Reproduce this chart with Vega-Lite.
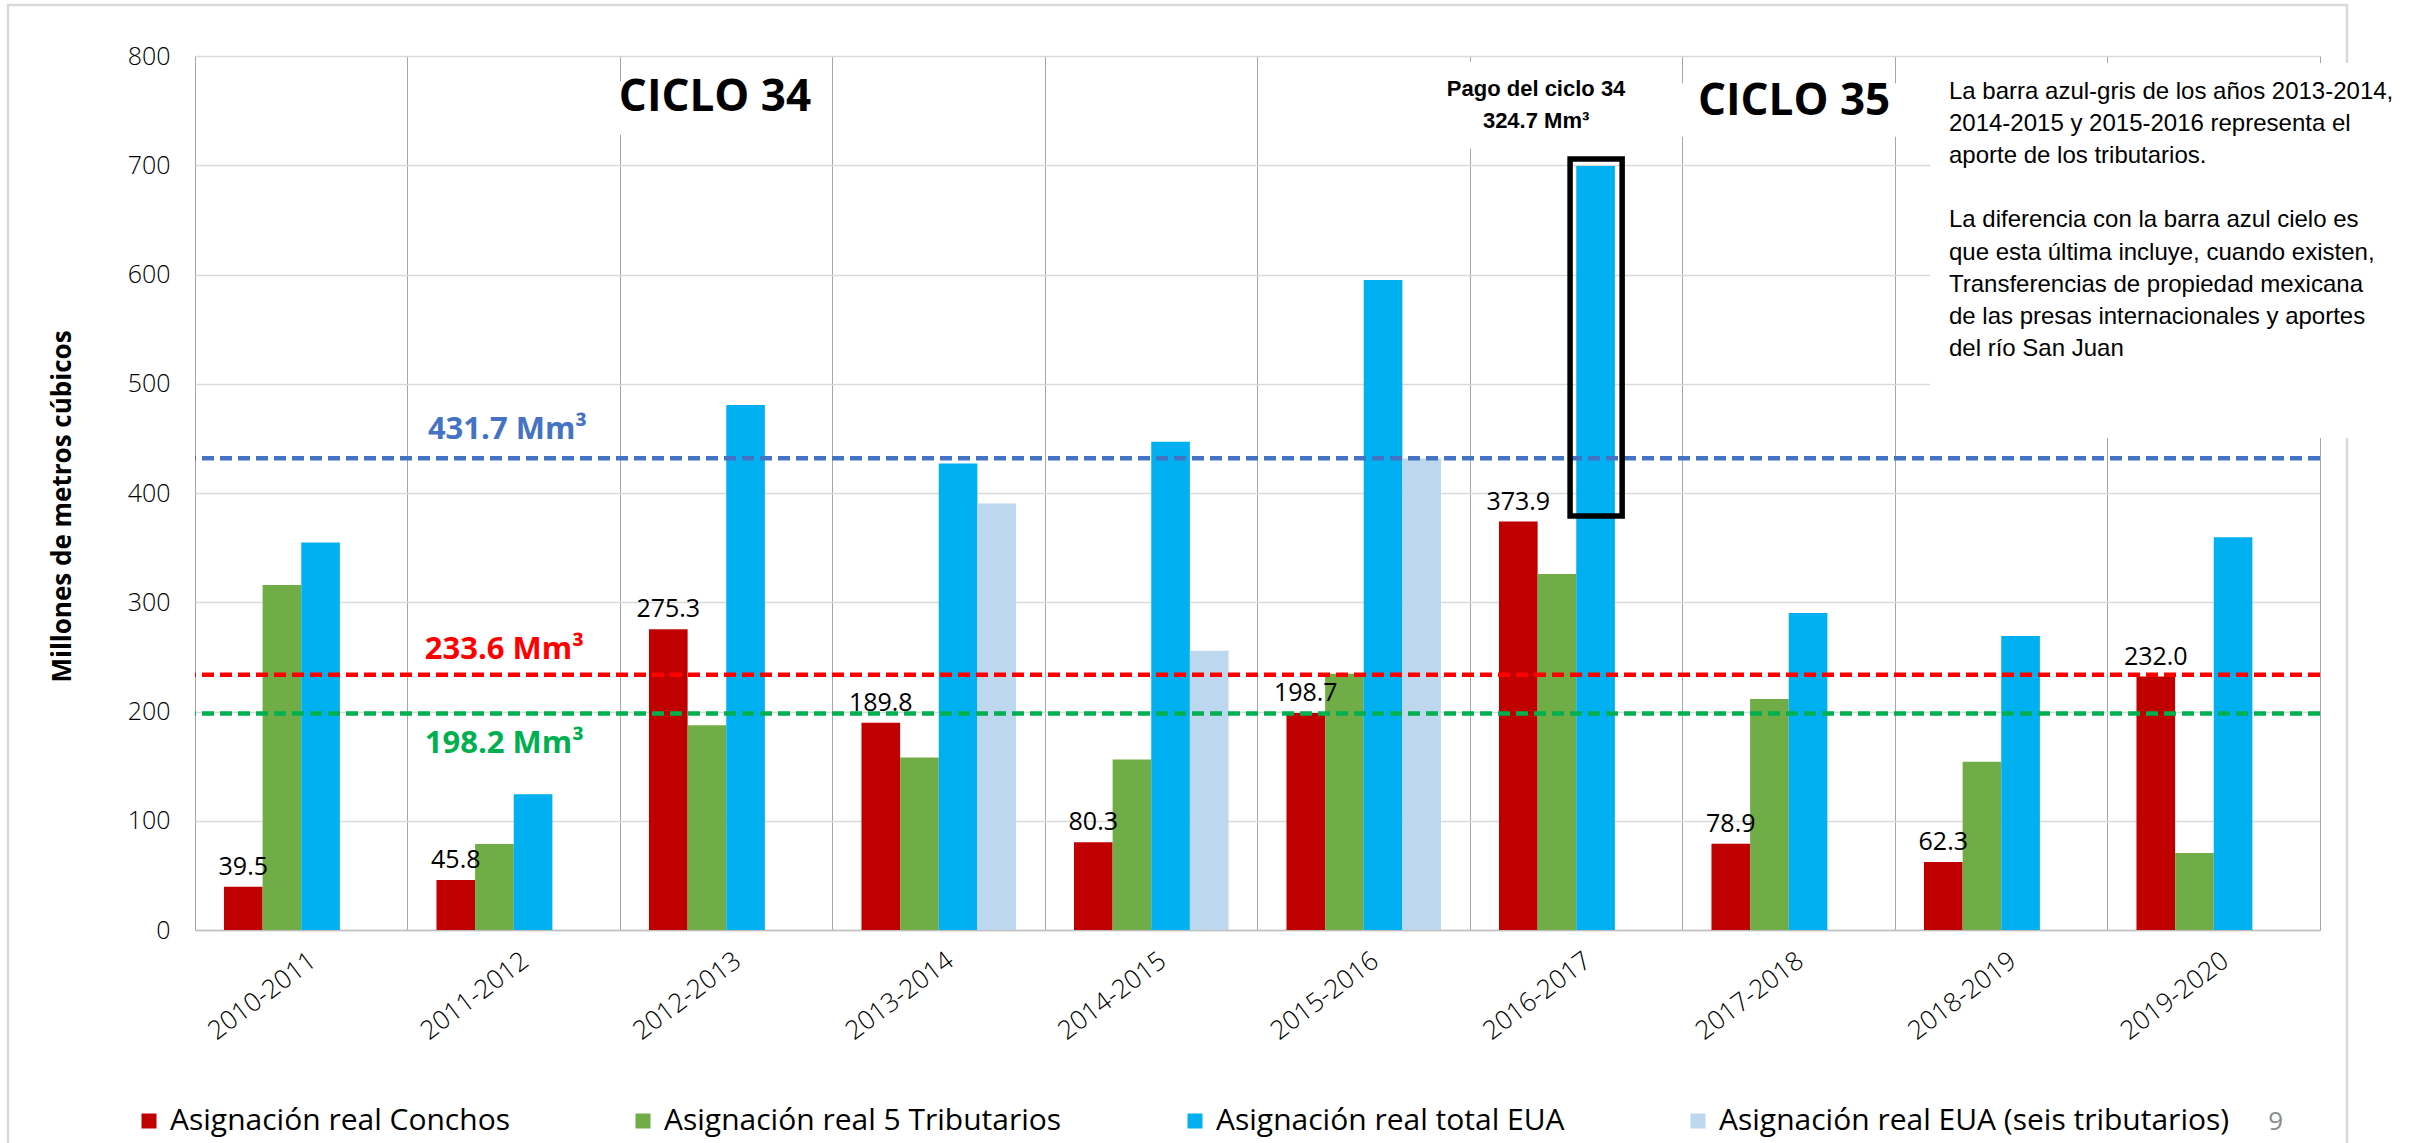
{
  "$schema": "https://vega.github.io/schema/vega-lite/v6.json",
  "width": 2125,
  "height": 874,
  "autosize": "none",
  "padding": {"left": 195, "top": 56, "right": 105, "bottom": 213},
  "background": "white",
  "config": {"view": {"stroke": null}, "font": "Open Sans"},
  "resolve": {"scale": {"x": "independent"}, "axis": {"y": "independent"}},
  "layer": [
    {
      "data": {"values": [{}]},
      "mark": {"type": "rect", "fill": null, "fillOpacity": 0, "stroke": "#D9D9D9", "strokeWidth": 2.5},
      "encoding": {
        "x": {"datum": -0.88, "type": "quantitative", "scale": {"domain": [0, 10], "nice": false}, "axis": null},
        "x2": {"datum": 10.127},
        "y": {"datum": 846.7, "type": "quantitative", "scale": {"domain": [0, 800]}, "axis": {"orient": "right", "labels": false, "ticks": false, "grid": false, "title": null, "domain": true, "domainColor": "#A6A6A6", "domainWidth": 1}},
        "y2": {"datum": -250}
      }
    },
    {
      "data": {"values": [{}]},
      "mark": {"type": "rect", "fill": "white", "stroke": null},
      "encoding": {
        "x": {"datum": 8.165, "type": "quantitative", "scale": {"domain": [0, 10], "nice": false}, "axis": null},
        "x2": {"datum": 10.6},
        "y": {"datum": 793.6, "type": "quantitative", "scale": {"domain": [0, 800]}, "axis": null},
        "y2": {"datum": 450.3}
      }
    },
    {
      "data": {"values": [{}]},
      "mark": {"type": "rect", "fill": "white", "stroke": null},
      "encoding": {
        "x": {"datum": 1.95, "type": "quantitative", "scale": {"domain": [0, 10], "nice": false}, "axis": null},
        "x2": {"datum": 2.95},
        "y": {"datum": 777, "type": "quantitative", "scale": {"domain": [0, 800]}, "axis": null},
        "y2": {"datum": 728}
      }
    },
    {
      "data": {"values": [{}]},
      "mark": {"type": "rect", "fill": "white", "stroke": null},
      "encoding": {
        "x": {"datum": 5.85, "type": "quantitative", "scale": {"domain": [0, 10], "nice": false}, "axis": null},
        "x2": {"datum": 6.95},
        "y": {"datum": 795, "type": "quantitative", "scale": {"domain": [0, 800]}, "axis": null},
        "y2": {"datum": 715}
      }
    },
    {
      "data": {"values": [{}]},
      "mark": {"type": "rect", "fill": "white", "stroke": null},
      "encoding": {
        "x": {"datum": 6.97, "type": "quantitative", "scale": {"domain": [0, 10], "nice": false}, "axis": null},
        "x2": {"datum": 8.05},
        "y": {"datum": 775, "type": "quantitative", "scale": {"domain": [0, 800]}, "axis": null},
        "y2": {"datum": 726}
      }
    },
    {
      "data": {"values": [
        {"Ciclo": "2010-2011", "Serie": "Asignación real Conchos", "Valor": 39.5},
        {"Ciclo": "2010-2011", "Serie": "Asignación real 5 Tributarios", "Valor": 315.7},
        {"Ciclo": "2010-2011", "Serie": "Asignación real total EUA", "Valor": 354.7},
        {"Ciclo": "2011-2012", "Serie": "Asignación real Conchos", "Valor": 45.8},
        {"Ciclo": "2011-2012", "Serie": "Asignación real 5 Tributarios", "Valor": 78.7},
        {"Ciclo": "2011-2012", "Serie": "Asignación real total EUA", "Valor": 124.3},
        {"Ciclo": "2012-2013", "Serie": "Asignación real Conchos", "Valor": 275.3},
        {"Ciclo": "2012-2013", "Serie": "Asignación real 5 Tributarios", "Valor": 187.4},
        {"Ciclo": "2012-2013", "Serie": "Asignación real total EUA", "Valor": 480.6},
        {"Ciclo": "2013-2014", "Serie": "Asignación real Conchos", "Valor": 189.8},
        {"Ciclo": "2013-2014", "Serie": "Asignación real 5 Tributarios", "Valor": 158.0},
        {"Ciclo": "2013-2014", "Serie": "Asignación real total EUA", "Valor": 426.9},
        {"Ciclo": "2013-2014", "Serie": "Asignación real EUA (seis tributarios)", "Valor": 390.5},
        {"Ciclo": "2014-2015", "Serie": "Asignación real Conchos", "Valor": 80.3},
        {"Ciclo": "2014-2015", "Serie": "Asignación real 5 Tributarios", "Valor": 156.0},
        {"Ciclo": "2014-2015", "Serie": "Asignación real total EUA", "Valor": 447.0},
        {"Ciclo": "2014-2015", "Serie": "Asignación real EUA (seis tributarios)", "Valor": 255.6},
        {"Ciclo": "2015-2016", "Serie": "Asignación real Conchos", "Valor": 198.7},
        {"Ciclo": "2015-2016", "Serie": "Asignación real 5 Tributarios", "Valor": 234.6},
        {"Ciclo": "2015-2016", "Serie": "Asignación real total EUA", "Valor": 595.0},
        {"Ciclo": "2015-2016", "Serie": "Asignación real EUA (seis tributarios)", "Valor": 431.5},
        {"Ciclo": "2016-2017", "Serie": "Asignación real Conchos", "Valor": 373.9},
        {"Ciclo": "2016-2017", "Serie": "Asignación real 5 Tributarios", "Valor": 325.8},
        {"Ciclo": "2016-2017", "Serie": "Asignación real total EUA", "Valor": 699.4},
        {"Ciclo": "2017-2018", "Serie": "Asignación real Conchos", "Valor": 78.9},
        {"Ciclo": "2017-2018", "Serie": "Asignación real 5 Tributarios", "Valor": 211.4},
        {"Ciclo": "2017-2018", "Serie": "Asignación real total EUA", "Valor": 290.2},
        {"Ciclo": "2018-2019", "Serie": "Asignación real Conchos", "Valor": 62.3},
        {"Ciclo": "2018-2019", "Serie": "Asignación real 5 Tributarios", "Valor": 154.1},
        {"Ciclo": "2018-2019", "Serie": "Asignación real total EUA", "Valor": 269.2},
        {"Ciclo": "2019-2020", "Serie": "Asignación real Conchos", "Valor": 232.0},
        {"Ciclo": "2019-2020", "Serie": "Asignación real 5 Tributarios", "Valor": 70.5},
        {"Ciclo": "2019-2020", "Serie": "Asignación real total EUA", "Valor": 359.6}
      ]},
      "layer": [
        {
          "mark": {"type": "bar"},
          "encoding": {
            "x": {
              "field": "Ciclo", "type": "nominal", "sort": null,
              "scale": {"paddingInner": 0, "paddingOuter": 0},
              "axis": {
                "orient": "bottom", "title": null, "bandPosition": 0, "labelOffset": 4,
                "labelAngle": -37, "labelAlign": "right", "labelBaseline": "top", "labelPadding": 17,
                "labelFont": "Open Sans", "labelFontSize": 26, "labelFontWeight": 300, "labelColor": "#000000",
                "labelOverlap": false, "labelBound": false,
                "ticks": false, "grid": true, "gridColor": "#A6A6A6", "gridWidth": 1,
                "domain": true, "domainColor": "#BFBFBF", "domainWidth": 1.5
              }
            },
            "xOffset": {
              "field": "Serie", "type": "nominal",
              "scale": {"domain": ["Asignación real Conchos", "Asignación real 5 Tributarios", "Asignación real total EUA", "Asignación real EUA (seis tributarios)"], "paddingInner": 0, "paddingOuter": 0.75}
            },
            "y": {
              "field": "Valor", "type": "quantitative",
              "scale": {"domain": [0, 800]},
              "axis": {
                "orient": "left", "values": [0, 100, 200, 300, 400, 500, 600, 700, 800],
                "title": "Millones de metros cúbicos", "titleFont": "Open Sans", "titleFontSize": 26,
                "titleFontWeight": "bold", "titleColor": "#000000", "titlePadding": 52, "titleY": 450,
                "labelFont": "Open Sans", "labelFontSize": 25, "labelFontWeight": 300, "labelColor": "#000000", "labelPadding": 25,
                "ticks": false, "domain": false, "grid": true, "gridColor": "#D9D9D9", "gridWidth": 1.5
              }
            },
            "color": {
              "field": "Serie", "type": "nominal",
              "scale": {
                "domain": ["Asignación real Conchos", "Asignación real 5 Tributarios", "Asignación real total EUA", "Asignación real EUA (seis tributarios)"],
                "range": ["#C00000", "#70AD47", "#00B0F0", "#BDD7EE"]
              },
              "legend": {
                "title": null, "orient": "none", "legendX": -61, "legendY": 1050,
                "direction": "horizontal", "columns": 4, "symbolType": "square", "symbolSize": 225,
                "symbolStrokeWidth": 0, "labelFont": "Open Sans", "labelFontSize": 30, "labelColor": "#000000",
                "labelOffset": 6, "columnPadding": 118, "labelLimit": 0, "padding": 0
              }
            }
          }
        },
        {
          "data": {"values": [{}]},
          "mark": {"type": "rule", "strokeDash": [12, 6], "strokeWidth": 4.5, "color": "#4472C4"},
          "encoding": {"y": {"datum": 431.7, "type": "quantitative", "scale": {"domain": [0, 800]}}}
        },
        {
          "data": {"values": [{}]},
          "mark": {"type": "rule", "strokeDash": [12, 6], "strokeWidth": 4.5, "color": "#FF0000"},
          "encoding": {"y": {"datum": 233.6, "type": "quantitative", "scale": {"domain": [0, 800]}}}
        },
        {
          "data": {"values": [{}]},
          "mark": {"type": "rule", "strokeDash": [12, 6], "strokeWidth": 4.5, "color": "#00B050"},
          "encoding": {"y": {"datum": 198.2, "type": "quantitative", "scale": {"domain": [0, 800]}}}
        },
        {
          "transform": [{"filter": "datum.Serie === 'Asignación real Conchos'"}],
          "mark": {"type": "text", "dy": -12, "baseline": "alphabetic", "align": "center", "font": "Open Sans", "fontSize": 25, "color": "#000000"},
          "encoding": {
            "x": {"field": "Ciclo", "type": "nominal", "sort": null},
            "xOffset": {"field": "Serie", "type": "nominal"},
            "y": {"field": "Valor", "type": "quantitative"},
            "text": {"field": "Valor", "type": "quantitative", "format": ".1f"},
            "fontWeight": {"condition": {"test": "datum.Ciclo === '2016-2017'", "value": "bold"}, "value": 300}
          }
        }
      ]
    },
    {
      "data": {"values": [{}]},
      "mark": {"type": "text", "font": "Open Sans", "fontWeight": "bold", "fontSize": 31, "color": "#4472C4", "align": "center", "baseline": "alphabetic", "text": "431.7 Mm³"},
      "encoding": {
        "x": {"datum": 1.4706, "type": "quantitative", "scale": {"domain": [0, 10], "nice": false}, "axis": null},
        "y": {"datum": 449, "type": "quantitative", "scale": {"domain": [0, 800]}, "axis": null}
      }
    },
    {
      "data": {"values": [{}]},
      "mark": {"type": "text", "font": "Open Sans", "fontWeight": "bold", "fontSize": 31, "color": "#FF0000", "align": "center", "baseline": "alphabetic", "text": "233.6 Mm³"},
      "encoding": {
        "x": {"datum": 1.456, "type": "quantitative", "scale": {"domain": [0, 10], "nice": false}, "axis": null},
        "y": {"datum": 248, "type": "quantitative", "scale": {"domain": [0, 800]}, "axis": null}
      }
    },
    {
      "data": {"values": [{}]},
      "mark": {"type": "text", "font": "Open Sans", "fontWeight": "bold", "fontSize": 31, "color": "#00B050", "align": "center", "baseline": "alphabetic", "text": "198.2 Mm³"},
      "encoding": {
        "x": {"datum": 1.456, "type": "quantitative", "scale": {"domain": [0, 10], "nice": false}, "axis": null},
        "y": {"datum": 162.1, "type": "quantitative", "scale": {"domain": [0, 800]}, "axis": null}
      }
    },
    {
      "data": {"values": [{}]},
      "mark": {"type": "text", "font": "Open Sans", "fontWeight": "bold", "fontSize": 44, "color": "#000000", "align": "center", "baseline": "alphabetic", "text": "CICLO 34"},
      "encoding": {
        "x": {"datum": 2.447, "type": "quantitative", "scale": {"domain": [0, 10], "nice": false}, "axis": null},
        "y": {"datum": 750, "type": "quantitative", "scale": {"domain": [0, 800]}, "axis": null}
      }
    },
    {
      "data": {"values": [{}]},
      "mark": {"type": "text", "font": "Open Sans", "fontWeight": "bold", "fontSize": 44, "color": "#000000", "align": "center", "baseline": "alphabetic", "text": "CICLO 35"},
      "encoding": {
        "x": {"datum": 7.525, "type": "quantitative", "scale": {"domain": [0, 10], "nice": false}, "axis": null},
        "y": {"datum": 746, "type": "quantitative", "scale": {"domain": [0, 800]}, "axis": null}
      }
    },
    {
      "data": {"values": [{}]},
      "mark": {"type": "text", "font": "Liberation Sans", "fontWeight": "bold", "fontSize": 22, "color": "#000000", "align": "center", "baseline": "alphabetic", "lineHeight": 31.5, "text": ["Pago del ciclo 34", "324.7 Mm³"]},
      "encoding": {
        "x": {"datum": 6.311, "type": "quantitative", "scale": {"domain": [0, 10], "nice": false}, "axis": null},
        "y": {"datum": 763, "type": "quantitative", "scale": {"domain": [0, 800]}, "axis": null}
      }
    },
    {
      "data": {"values": [{}]},
      "mark": {"type": "text", "font": "Liberation Sans", "fontSize": 24, "color": "#000000", "align": "left", "baseline": "alphabetic", "lineHeight": 32.1,
        "text": ["La barra azul-gris de los años 2013-2014,", "2014-2015 y 2015-2016 representa el", "aporte de los tributarios."]},
      "encoding": {
        "x": {"datum": 8.254, "type": "quantitative", "scale": {"domain": [0, 10], "nice": false}, "axis": null},
        "y": {"datum": 760.6, "type": "quantitative", "scale": {"domain": [0, 800]}, "axis": null}
      }
    },
    {
      "data": {"values": [{}]},
      "mark": {"type": "text", "font": "Liberation Sans", "fontSize": 24, "color": "#000000", "align": "left", "baseline": "alphabetic", "lineHeight": 32.1,
        "text": ["La diferencia con la barra azul cielo es", "que esta última incluye, cuando existen,", "Transferencias de propiedad mexicana", "de las presas internacionales y aportes", "del río San Juan"]},
      "encoding": {
        "x": {"datum": 8.254, "type": "quantitative", "scale": {"domain": [0, 10], "nice": false}, "axis": null},
        "y": {"datum": 643.1, "type": "quantitative", "scale": {"domain": [0, 800]}, "axis": null}
      }
    },
    {
      "data": {"values": [{}]},
      "mark": {"type": "text", "font": "Open Sans", "fontSize": 26, "color": "#8C8C8C", "align": "center", "baseline": "alphabetic", "text": "9"},
      "encoding": {
        "x": {"datum": 9.791, "type": "quantitative", "scale": {"domain": [0, 10], "nice": false}, "axis": null},
        "y": {"datum": -183, "type": "quantitative", "scale": {"domain": [0, 800]}, "axis": null}
      }
    },
    {
      "data": {"values": [{}]},
      "mark": {"type": "rect", "fill": null, "fillOpacity": 0, "stroke": "#000000", "strokeWidth": 5.5},
      "encoding": {
        "x": {"datum": 6.471, "type": "quantitative", "scale": {"domain": [0, 10], "nice": false}, "axis": null},
        "x2": {"datum": 6.716},
        "y": {"datum": 705.7, "type": "quantitative", "scale": {"domain": [0, 800]}, "axis": null},
        "y2": {"datum": 379}
      }
    }
  ]
}
